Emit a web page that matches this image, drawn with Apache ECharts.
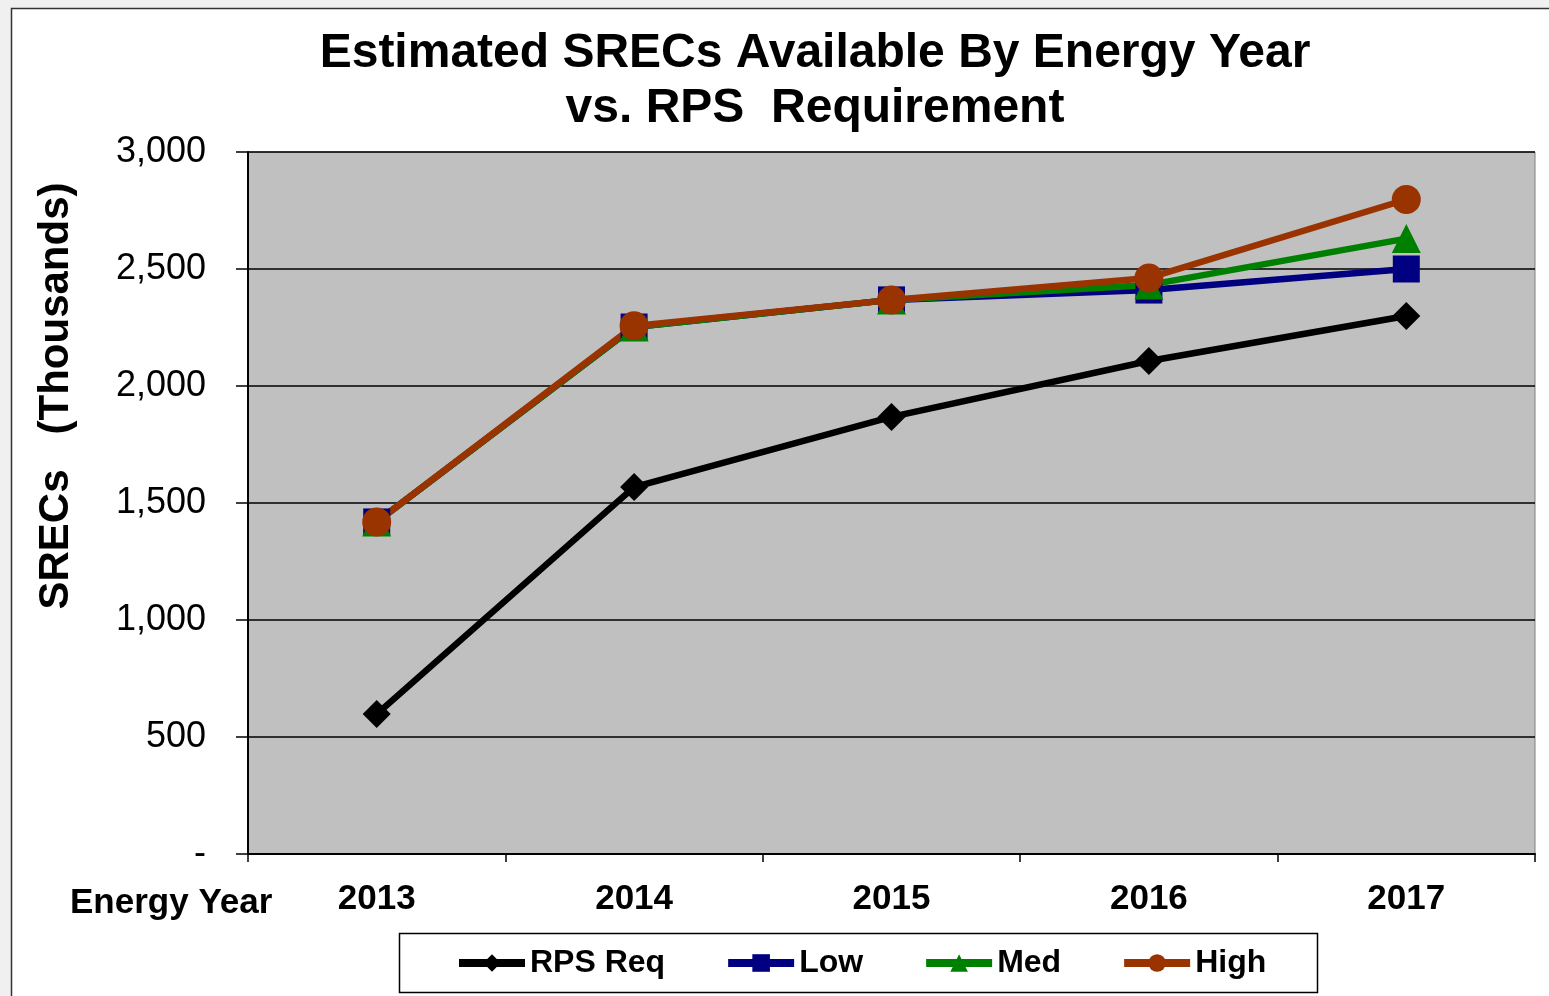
<!DOCTYPE html>
<html>
<head>
<meta charset="utf-8">
<script src="https://cdn.jsdelivr.net/npm/echarts@6/dist/echarts.min.js"></script>
<style>
html,body{margin:0;padding:0;background:#f0f0f0;}
#chart{width:1549px;height:996px;}
</style>
</head>
<body>
<div id="chart"></div>
<script>
const categories = ['2013', '2014', '2015', '2016', '2017'];
const rpsReq = [598, 1568, 1868, 2107, 2299];
const low = [1419, 2252, 2368, 2410, 2500];
const med = [1419, 2252, 2368, 2432, 2630];
const high = [1419, 2257, 2368, 2462, 2797];
const yTickLabels = ['-', '500', '1,000', '1,500', '2,000', '2,500', '3,000'];
const seriesNames = ['RPS Req', 'Low', 'Med', 'High'];

const FONT = '"Liberation Sans", Arial, sans-serif';
const chart = echarts.init(document.getElementById('chart'));

function mk(name, data, color, symbol, size) {
  return {
    name: name, type: 'line', data: data,
    symbol: symbol, symbolSize: size,
    lineStyle: { color: color, width: 6.5 },
    itemStyle: { color: color },
    emphasis: { disabled: true },
    animation: false
  };
}

chart.setOption({
  animation: false,
  backgroundColor: 'transparent',
  graphic: [
    { type: 'rect', z: -10, shape: { x: 11.5, y: 8.5, width: 1600, height: 1100 },
      style: { fill: '#ffffff', stroke: '#333333', lineWidth: 1.5 } },
    { type: 'text', x: 815, y: 81,
      style: { text: 'Estimated SRECs Available By Energy Year\nvs. RPS  Requirement',
        font: 'bold 48px ' + FONT, fill: '#000', align: 'center', verticalAlign: 'middle', lineHeight: 55 } },
    { type: 'text', x: 56, y: 396, rotation: Math.PI / 2,
      style: { text: 'SRECs   (Thousands)', font: 'bold 42px ' + FONT, fill: '#000',
        align: 'center', verticalAlign: 'middle' } },
    { type: 'text', x: 70, y: 903,
      style: { text: 'Energy Year', font: 'bold 35px ' + FONT, fill: '#000',
        align: 'left', verticalAlign: 'middle' } },
    { type: 'rect', shape: { x: 399.5, y: 933.5, width: 918, height: 59 },
      style: { fill: '#fff', stroke: '#000', lineWidth: 1.5 } }
  ],
  grid: { left: 248, top: 152, width: 1287, height: 702, show: true,
    backgroundColor: '#c0c0c0', borderColor: '#808080', borderWidth: 1 },
  legend: {
    data: seriesNames, left: 450, top: 942, itemGap: 59, itemWidth: 66, itemHeight: 22,
    lineStyle: { width: 8 },
    textStyle: { fontFamily: FONT, fontWeight: 'bold', fontSize: 32, color: '#000' }
  },
  xAxis: {
    type: 'category', data: categories, boundaryGap: true,
    axisLine: { lineStyle: { color: '#000', width: 2 } },
    axisTick: { show: true, length: 8, lineStyle: { color: '#000', width: 1.5 } },
    axisLabel: { margin: 28, color: '#000', fontFamily: FONT, fontWeight: 'bold', fontSize: 35 },
    splitLine: { show: false }
  },
  yAxis: {
    type: 'value', min: 0, max: 3000, interval: 500,
    axisLine: { show: true, lineStyle: { color: '#000', width: 2 } },
    axisTick: { show: true, length: 12, lineStyle: { color: '#000', width: 1.5 } },
    axisLabel: { margin: 42, color: '#000', fontFamily: FONT, fontSize: 36, padding: [5, 0, 0, 0],
      formatter: function (v) { return yTickLabels[Math.round(v / 500)]; } },
    splitLine: { show: true, lineStyle: { color: '#000', width: 1.5 } }
  },
  series: [
    mk(seriesNames[0], rpsReq, '#000000', 'diamond', 28),
    mk(seriesNames[1], low, '#000080', 'rect', 27),
    mk(seriesNames[2], med, '#008000', 'triangle', 29),
    mk(seriesNames[3], high, '#993300', 'circle', 29)
  ]
});
</script>
</body>
</html>
